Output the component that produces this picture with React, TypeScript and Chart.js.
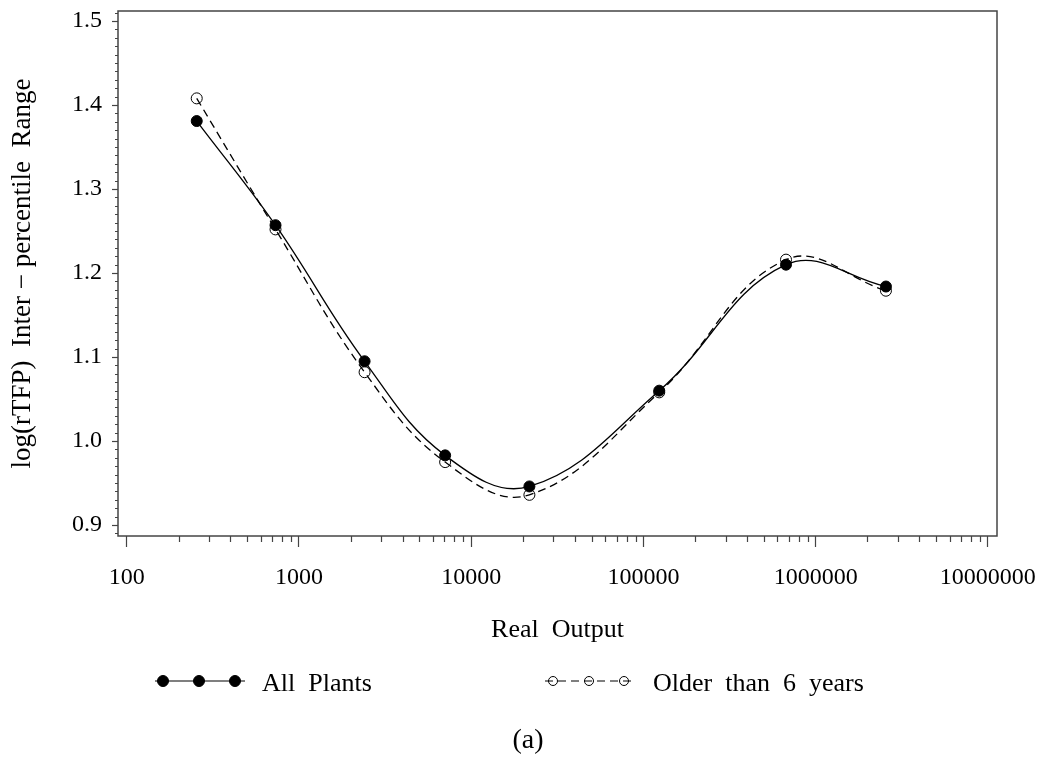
import React, { useEffect, useRef } from "react";
import { Chart, registerables } from "chart.js";

Chart.register(...registerables);

// ---- data ----
const outputX = [255, 731, 2405, 7060, 21780, 123600, 673000, 2560000];
const allPlants = [1.381, 1.257, 1.095, 0.983, 0.946, 1.06, 1.21, 1.184];
const olderThan6 = [1.408, 1.252, 1.082, 0.975, 0.936, 1.058, 1.216, 1.179];
const seriesNames = ["All  Plants", "Older  than  6  years"];
const xTickValues = [100, 1000, 10000, 100000, 1000000, 10000000];
const yTickValues = [0.9, 1.0, 1.1, 1.2, 1.3, 1.4, 1.5];
const xTitle = "Real  Output";
const yTitle = "log(rTFP)  Inter − percentile  Range";
const caption = "(a)";

const FONT = "'Liberation Serif', 'Times New Roman', serif";
const AXIS_COLOR = "#444";

const zeroPad = (s: any) => {
  s.paddingLeft = 0;
  s.paddingRight = 0;
  s.paddingTop = 0;
  s.paddingBottom = 0;
};

const decorPlugin = {
  id: "decor",
  afterDraw(chart: any) {
    const ctx = chart.ctx as CanvasRenderingContext2D;
    const { left, right, top, bottom } = chart.chartArea;
    const xs = chart.scales.x;
    const ys = chart.scales.y;
    ctx.save();
    // frame
    ctx.strokeStyle = AXIS_COLOR;
    ctx.lineWidth = 1.5;
    ctx.strokeRect(left, top, right - left, bottom - top);
    // minor x ticks
    ctx.lineWidth = 1.2;
    ctx.beginPath();
    for (let d = 2; d < 7; d++) {
      for (let m = 2; m <= 9; m++) {
        const v = m * Math.pow(10, d);
        const px = Math.round(xs.getPixelForValue(v)) + 0.5;
        ctx.moveTo(px, bottom);
        ctx.lineTo(px, bottom + 6);
      }
    }
    // minor y ticks
    for (let i = 89; i <= 151; i++) {
      if (i % 10 === 0) continue;
      const v = i / 100;
      const py = Math.round(ys.getPixelForValue(v)) + 0.5;
      if (py < top || py > bottom) continue;
      ctx.moveTo(left, py);
      ctx.lineTo(left - 3, py);
    }
    ctx.stroke();

    // legend
    const ly = 681;
    const ds = chart.data.datasets;
    const items = [
      { x0: 155, x1: 245, marks: [163, 199, 235], tx: 262, r: 5.5 },
      { x0: 545, x1: 632, marks: [553, 589, 624], tx: 653, r: 4.5 },
    ];
    items.forEach((it, i) => {
      const d = ds[i];
      ctx.strokeStyle = d.borderColor;
      ctx.lineWidth = 1.2;
      ctx.setLineDash(d.borderDash || []);
      ctx.beginPath();
      ctx.moveTo(it.x0, ly);
      ctx.lineTo(it.x1, ly);
      ctx.stroke();
      ctx.setLineDash([]);
      it.marks.forEach((mx) => {
        ctx.beginPath();
        ctx.arc(mx, ly, it.r, 0, Math.PI * 2);
        if (d.pointBackgroundColor !== "rgba(0,0,0,0)") {
          ctx.fillStyle = d.pointBackgroundColor;
          ctx.fill();
        }
        ctx.strokeStyle = d.pointBorderColor;
        ctx.lineWidth = 1;
        ctx.stroke();
      });
      ctx.fillStyle = "#000";
      ctx.font = `26px ${FONT}`;
      ctx.textAlign = "left";
      ctx.textBaseline = "middle";
      ctx.fillText(d.label, it.tx, ly + 3);
    });

    // caption
    ctx.font = `28px ${FONT}`;
    ctx.textAlign = "center";
    ctx.textBaseline = "middle";
    ctx.fillStyle = "#000";
    ctx.fillText(caption, 528, 741);
    ctx.restore();
  },
};

export default function App() {
  const ref = useRef<HTMLCanvasElement | null>(null);

  useEffect(() => {
    document.body.style.margin = "0";
    const canvas = ref.current;
    if (!canvas) return;
    const chart = new Chart(canvas, {
      type: "line",
      data: {
        datasets: [
          {
            label: seriesNames[0],
            data: outputX.map((x, i) => ({ x, y: allPlants[i] })),
            borderColor: "#000",
            borderWidth: 1.3,
            pointBackgroundColor: "#000",
            pointBorderColor: "#000",
            pointRadius: 5.5,
            pointBorderWidth: 1,
            tension: 0.4,
            fill: false,
          },
          {
            label: seriesNames[1],
            data: outputX.map((x, i) => ({ x, y: olderThan6[i] })),
            borderColor: "#000",
            borderWidth: 1.3,
            borderDash: [8, 5],
            pointBackgroundColor: "rgba(0,0,0,0)",
            pointBorderColor: "#000",
            pointRadius: 5.5,
            pointBorderWidth: 1,
            tension: 0.4,
            fill: false,
          },
        ],
      },
      options: {
        animation: false,
        responsive: false,
        events: [],
        layout: { padding: { left: 0, top: 11, right: 46, bottom: 116 } },
        plugins: { legend: { display: false }, tooltip: { enabled: false } },
        scales: {
          x: {
            type: "logarithmic",
            min: 89,
            max: 11300000,
            afterBuildTicks: (s: any) => {
              s.ticks = xTickValues.map((v) => ({ value: v, major: true }));
            },
            afterFit: (s: any) => {
              s.height = 110;
              zeroPad(s);
            },
            border: { display: false },
            grid: {
              drawOnChartArea: false,
              drawTicks: true,
              tickLength: 11,
              tickWidth: 1.2,
              tickColor: AXIS_COLOR,
            },
            ticks: {
              autoSkip: false,
              maxRotation: 0,
              padding: 16,
              color: "#000",
              font: { family: FONT, size: 24 },
              callback: (v: any) => String(v),
            },
            title: {
              display: true,
              text: xTitle,
              color: "#000",
              font: { family: FONT, size: 26 },
              padding: { top: 0, bottom: 0 },
            },
          },
          y: {
            type: "linear",
            min: 0.887,
            max: 1.512,
            afterBuildTicks: (s: any) => {
              s.ticks = yTickValues.map((v) => ({ value: v }));
            },
            afterFit: (s: any) => {
              s.width = 118;
              zeroPad(s);
            },
            border: { display: false },
            grid: {
              drawOnChartArea: false,
              drawTicks: true,
              tickLength: 6,
              tickWidth: 1.2,
              tickColor: AXIS_COLOR,
            },
            ticks: {
              padding: 10,
              color: "#000",
              font: { family: FONT, size: 24 },
              callback: (v: any) => Number(v).toFixed(1),
            },
            title: {
              display: true,
              text: yTitle,
              color: "#000",
              font: { family: FONT, size: 27 },
              padding: { top: 7, bottom: 0 },
            },
          },
        },
      },
      plugins: [decorPlugin],
    } as any);
    return () => chart.destroy();
  }, []);

  return (
    <div style={{ position: "relative", width: 1043, height: 762, background: "#fff" }}>
      <canvas ref={ref} width={1043} height={762} style={{ display: "block", width: 1043, height: 762 }} />
    </div>
  );
}
